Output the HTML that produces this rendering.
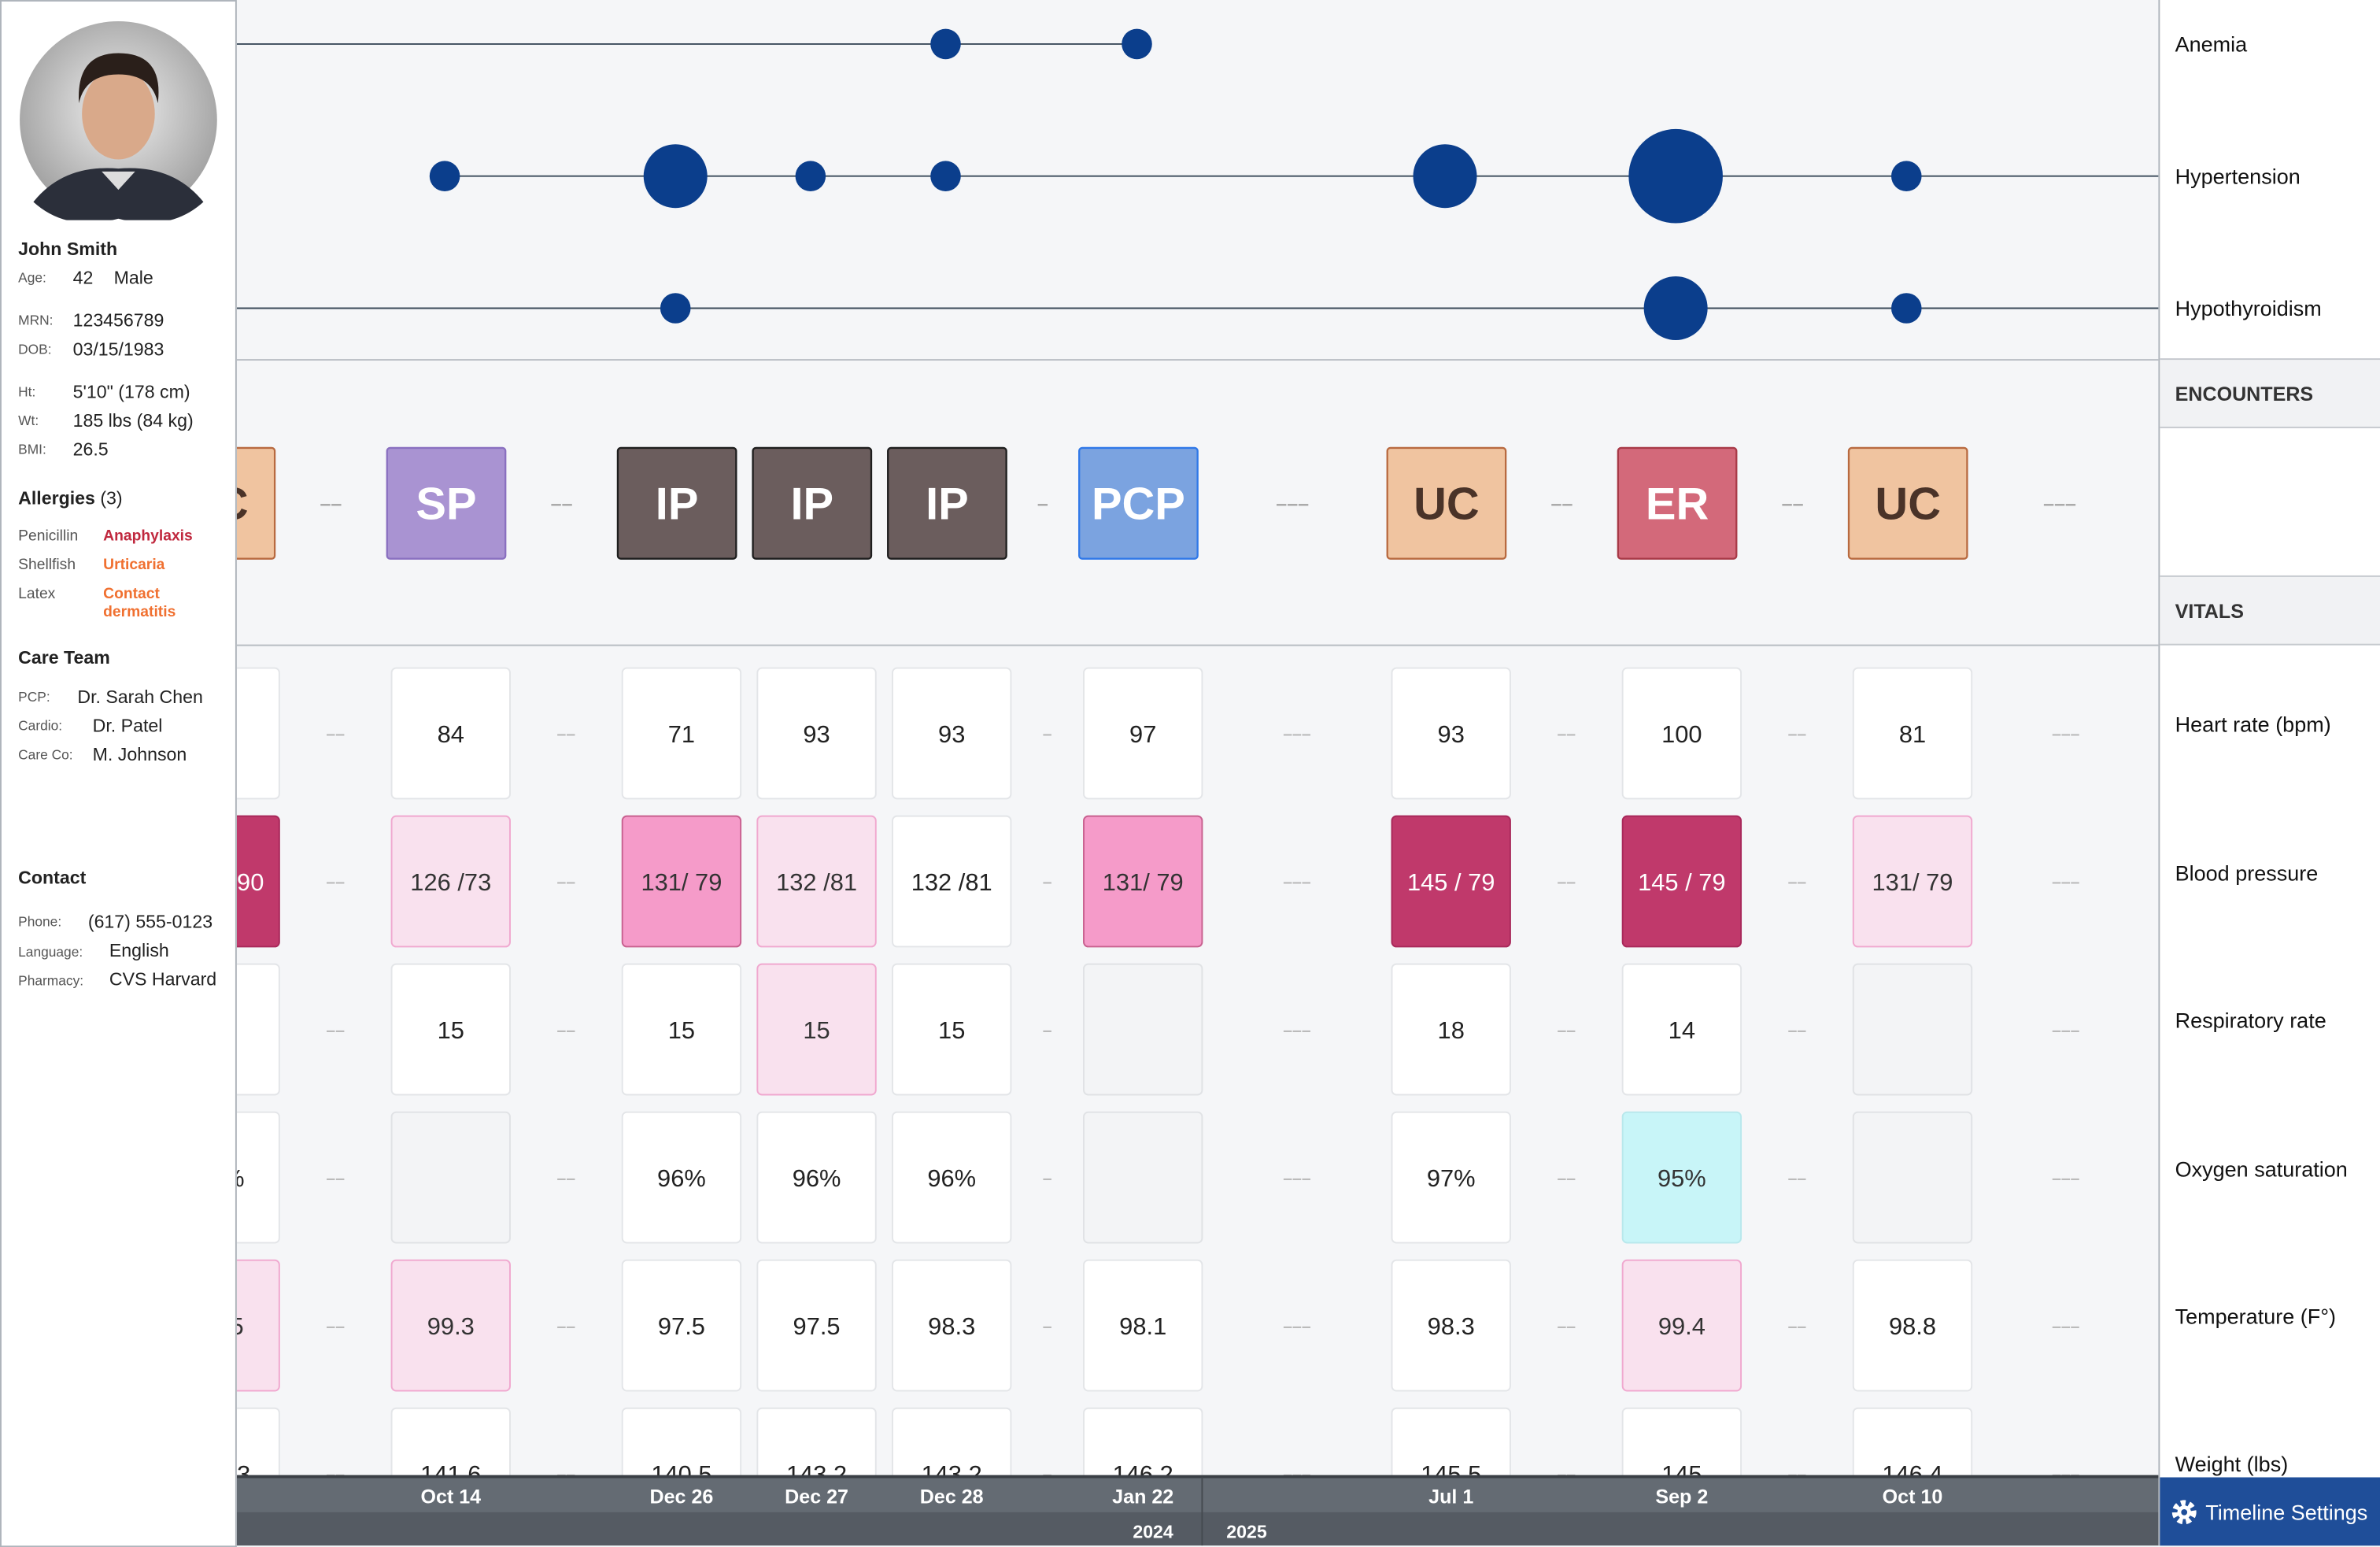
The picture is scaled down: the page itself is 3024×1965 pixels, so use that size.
<!DOCTYPE html>
<html><head><meta charset="utf-8">
<style>
html,body{margin:0;padding:0;width:3024px;height:1964px;overflow:hidden;background:#f5f6f8;font-family:"Liberation Sans",Arial,sans-serif;}
#root{position:absolute;left:0;top:0;width:1568px;height:1018px;transform:scale(1.92857);transform-origin:0 0;background:#f5f6f8;}
#side{position:absolute;left:0;top:0;width:154px;height:1017px;background:#fff;border:1px solid #aeb4bb;z-index:3;color:#222;}
.t{position:absolute;white-space:nowrap;}
.lb{font-size:9px;color:#555;}
.v{font-size:12px;color:#222;}
.h{font-size:12px;font-weight:bold;color:#222;}
#right{position:absolute;left:1422px;top:0;width:146px;height:1018px;background:#fff;border-left:1px solid #aeb4bb;z-index:2;}
.rl{position:absolute;left:10px;font-size:14px;color:#111;}
.band{position:absolute;left:0;width:146px;height:44px;background:#f1f2f4;border-top:1px solid #c5c9ce;border-bottom:1px solid #c5c9ce;}
.band span{position:absolute;left:10px;top:15px;font-size:13px;font-weight:bold;color:#333;}
#chart{position:absolute;left:0;top:0;z-index:1;}
#settings{position:absolute;left:1423px;top:973px;width:145px;height:45px;background:#1f4e99;color:#fff;font-size:14px;z-index:4;}
</style></head><body>
<div id="root">
<svg id="chart" width="1568" height="1018"></svg>

<div id="side">
  <svg class="t" style="left:11px;top:12px" width="132" height="132">
    <defs><radialGradient id="bg" cx="50%" cy="45%" r="60%"><stop offset="0" stop-color="#f0f0f0"/><stop offset="1" stop-color="#9a9a9a"/></radialGradient></defs>
    <circle cx="66" cy="66" r="65" fill="url(#bg)"/>
    <path d="M10 120 Q30 95 66 98 Q102 95 122 120 Q100 140 66 131 Q32 140 10 120Z" fill="#2b2f3a"/>
    <ellipse cx="66" cy="62" rx="24" ry="30" fill="#d9a98a"/>
    <path d="M40 55 Q38 22 66 22 Q96 22 92 55 Q88 36 66 36 Q44 36 40 55Z" fill="#2a1f1a"/>
    <path d="M55 100 L66 112 L77 100Z" fill="#ddd"/>
  </svg>
  <div class="t h" style="left:11px;top:156px">John Smith</div>
  <div class="t lb" style="left:11px;top:177px">Age:</div><div class="t v" style="left:47px;top:175px">42</div><div class="t v" style="left:74px;top:175px">Male</div>
  <div class="t lb" style="left:11px;top:205px">MRN:</div><div class="t v" style="left:47px;top:203px">123456789</div>
  <div class="t lb" style="left:11px;top:224px">DOB:</div><div class="t v" style="left:47px;top:222px">03/15/1983</div>
  <div class="t lb" style="left:11px;top:252px">Ht:</div><div class="t v" style="left:47px;top:250px">5'10" (178 cm)</div>
  <div class="t lb" style="left:11px;top:271px">Wt:</div><div class="t v" style="left:47px;top:269px">185 lbs (84 kg)</div>
  <div class="t lb" style="left:11px;top:290px">BMI:</div><div class="t v" style="left:47px;top:288px">26.5</div>
  <div class="t h" style="left:11px;top:320px">Allergies <span style="font-weight:normal">(3)</span></div>
  <div class="t lb" style="left:11px;top:347px;font-size:10px">Penicillin</div><div class="t" style="left:67px;top:347px;font-size:10px;font-weight:bold;color:#c0283e">Anaphylaxis</div>
  <div class="t lb" style="left:11px;top:366px;font-size:10px">Shellfish</div><div class="t" style="left:67px;top:366px;font-size:10px;font-weight:bold;color:#f07030">Urticaria</div>
  <div class="t lb" style="left:11px;top:385px;font-size:10px">Latex</div><div class="t" style="left:67px;top:385px;font-size:10px;font-weight:bold;color:#f07030;line-height:12px">Contact<br>dermatitis</div>
  <div class="t h" style="left:11px;top:425px">Care Team</div>
  <div class="t lb" style="left:11px;top:453px">PCP:</div><div class="t v" style="left:50px;top:451px">Dr. Sarah Chen</div>
  <div class="t lb" style="left:11px;top:472px">Cardio:</div><div class="t v" style="left:60px;top:470px">Dr. Patel</div>
  <div class="t lb" style="left:11px;top:491px">Care Co:</div><div class="t v" style="left:60px;top:489px">M. Johnson</div>
  <div class="t h" style="left:11px;top:570px">Contact</div>
  <div class="t lb" style="left:11px;top:601px">Phone:</div><div class="t v" style="left:57px;top:599px">(617) 555-0123</div>
  <div class="t lb" style="left:11px;top:621px">Language:</div><div class="t v" style="left:71px;top:618px">English</div>
  <div class="t lb" style="left:11px;top:640px">Pharmacy:</div><div class="t v" style="left:71px;top:637px">CVS Harvard</div>
</div>

<div id="right">
  <div class="rl" style="top:21px">Anemia</div>
  <div class="rl" style="top:108px">Hypertension</div>
  <div class="rl" style="top:195px">Hypothyroidism</div>
  <div class="band" style="top:236px"><span>ENCOUNTERS</span></div>
  <div class="band" style="top:379px"><span>VITALS</span></div>
  <div class="rl" style="top:469px">Heart rate (bpm)</div>
  <div class="rl" style="top:567px">Blood pressure</div>
  <div class="rl" style="top:664px">Respiratory rate</div>
  <div class="rl" style="top:762px">Oxygen saturation</div>
  <div class="rl" style="top:859px">Temperature (F°)</div>
  <div class="rl" style="top:956px">Weight (lbs)</div>
</div>
<div id="settings">
  <svg class="t" style="left:7px;top:14px" width="18" height="18" viewBox="0 0 18 18"><circle cx="9" cy="9" r="6" fill="none" stroke="#fff" stroke-width="4" stroke-dasharray="3 2.2"/><circle cx="9" cy="9" r="4.5" fill="#fff"/><circle cx="9" cy="9" r="2" fill="#1f4e99"/></svg>
  <div class="t" style="left:30px;top:15px">Timeline Settings</div>
</div>
</div>

<script>
const dates = ["Oct 3","Oct 14","Dec 26","Dec 27","Dec 28","Jan 22","Jul 1","Sep 2","Oct 10"];
const gapDashes = [0,2,2,0,0,1,3,2,2,3]; // dashes before each column, last = trailing
const encounters = ["UC","SP","IP","IP","IP","PCP","UC","ER","UC"];
const heartRate = ["88","84","71","93","93","97","93","100","81"];
const bloodPressure = ["148 / 90","126 /73","131/ 79","132 /81","132 /81","131/ 79","145 / 79","145 / 79","131/ 79"];
const bpLevel = [3,1,2,1,0,2,3,3,1];
const respRate = ["16","15","15","15","15","","18","14",""];
const rrLevel = [0,0,0,1,0,0,0,0,0];
const oxygen = ["98%","","96%","96%","96%","","97%","95%",""];
const o2Level = [0,0,0,0,0,0,0,4,0];
const temperature = ["98.5","99.3","97.5","97.5","98.3","98.1","98.3","99.4","98.8"];
const tempLevel = [1,1,0,0,0,0,0,1,0];
const weight = ["143.3","141.6","140.5","143.2","143.2","146.2","145.5","145","146.4"];
const anemia = [0,0,0,0,1,1,0,0,0];
const hypertension = [0,1,2,1,1,0,2,3,1];
const hypothyroidism = [0,0,1,0,0,0,0,2,1];
const yearLabels = ["2024","2025"];

const NS="http://www.w3.org/2000/svg";
const svg=document.getElementById('chart');
function el(tag,attrs,parent){const e=document.createElementNS(NS,tag);for(const k in attrs)e.setAttribute(k,attrs[k]);(parent||svg).appendChild(e);return e;}
const gapW=[89,126,152,203];
function colX(i){let x=145;for(let j=1;j<=i;j++)x+=gapW[gapDashes[j]];return x;}
function gapX(i){return (colX(i-1)+colX(i))/2;}
const dashStr=["","-","--","---"];

el('line',{x1:155,y1:237,x2:1422,y2:237,stroke:'#b8bdc3','stroke-width':1});
el('line',{x1:155,y1:425,x2:1422,y2:425,stroke:'#b8bdc3','stroke-width':1});

// conditions
const conds=[[anemia,29,'anemia',true,false],[hypertension,116,'hypertension',false,true],[hypothyroidism,203,'hypothyroidism',true,true]];
const rScale=[0,10,21,31];
conds.forEach(([arr,y,name,fromStart,toEnd])=>{
  let first=-1,last=-1;arr.forEach((v,i)=>{if(v){if(first<0)first=i;last=i;}});
  const startX = fromStart ? 155 : colX(first)-4;
  const endX = toEnd ? 1422 : colX(last);
  const ln=el('line',{x1:startX,y1:y,x2:endX,y2:y,stroke:'#3a4a5a','stroke-width':1});
  
  
  arr.forEach((v,i)=>{if(!v)return;
    const c=el('circle',{cx:colX(i)-4,cy:y,r:rScale[v],fill:'#0b3e8c'});
    
    
  });
});

// encounters
const encStyle={SP:['#a993d2','#8a70c0','#fff'],IP:['#6b5d5d','#1e1e1e','#fff'],PCP:['#7ba3e0','#2f78e8','#fff'],UC:['#f0c4a0','#b86a40','#4a3328'],ER:['#d3697a','#a83a48','#fff']};
encounters.forEach((e,i)=>{
  const x=colX(i)-3, s=encStyle[e];
  const r=el('rect',{x:x-39,y:295,width:78,height:73,rx:2,fill:s[0],stroke:s[1],'stroke-width':1.2});
  
  
  const t=el('text',{x:x,y:342,'text-anchor':'middle','font-size':30,'font-weight':'bold',fill:s[2]});t.textContent=e;
});
for(let i=1;i<=dates.length;i++){
  const gx = i<dates.length? gapX(i) : colX(dates.length-1)+100;
  const d=gapDashes[i]; if(!d)continue;
  const t=el('text',{x:gx-3,y:336,'text-anchor':'middle','font-size':13,fill:'#aaa','font-weight':'bold'});t.textContent=dashStr[d].replace(/-/g,'–');
}

// vitals
const lvlFill=['#ffffff','#f9e1ee','#f59bc9','#c0396b','#c8f5f8'];
const lvlStroke=['#e3e5e8','#f0a8cf','#c8608f','#a8285a','#b8e8ec'];
const lvlText=['#222','#333','#333','#fff','#333'];
const rows=[[heartRate,null,'heart-rate'],[bloodPressure,bpLevel,'blood-pressure'],[respRate,rrLevel,'respiratory-rate'],[oxygen,o2Level,'oxygen-saturation'],[temperature,tempLevel,'temperature'],[weight,null,'weight']];
rows.forEach(([vals,lv,name],ri)=>{
  const top=440+ri*97.5;
  vals.forEach((v,i)=>{
    const x=colX(i);const L=lv?lv[i]:0;
    const empty=v==='';
    const r=el('rect',{x:x-39,y:top,width:78,height:86,rx:3,fill:empty?'#f3f4f6':lvlFill[L],stroke:empty?'#e0e2e5':lvlStroke[L],'stroke-width':1});
    
    
    if(!empty){const t=el('text',{x:x,y:top+49,'text-anchor':'middle','font-size':16,fill:lvlText[L]});t.textContent=v;}
  });
  for(let i=1;i<=vals.length;i++){
    const gx = i<vals.length? gapX(i) : colX(vals.length-1)+101;
    const d=gapDashes[i]; if(!d)continue;
    const t=el('text',{x:gx,y:top+47,'text-anchor':'middle','font-size':11,fill:'#bbb','font-weight':'bold'});t.textContent=dashStr[d].replace(/-/g,'–');
  }
});

// axis bar
el('rect',{x:155,y:972,width:1268,height:25,fill:'#646b73'});
el('rect',{x:155,y:996,width:1268,height:22,fill:'#555b63'});
el('line',{x1:155,y1:972.5,x2:1422,y2:972.5,stroke:'#3a3f45','stroke-width':2});
el('line',{x1:792,y1:973,x2:792,y2:1018,stroke:'#454a50','stroke-width':1});
dates.forEach((d,i)=>{
  if(i===0)return;
  const t=el('text',{x:colX(i),y:990,'text-anchor':'middle','font-size':13,'font-weight':'bold',fill:'#fff'});
  t.textContent=d;
  
  
});
const y1=el('text',{x:773,y:1013,'text-anchor':'end','font-size':12,'font-weight':'bold',fill:'#fff'});y1.textContent=yearLabels[0];
const y2=el('text',{x:808,y:1013,'font-size':12,'font-weight':'bold',fill:'#fff'});y2.textContent=yearLabels[1];
</script>
</body></html>
